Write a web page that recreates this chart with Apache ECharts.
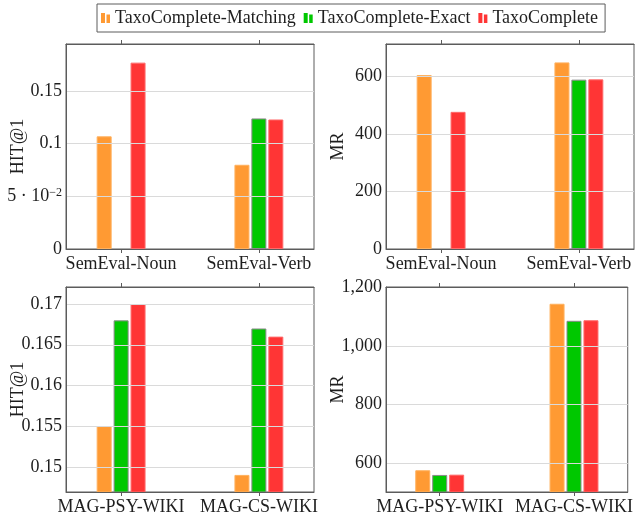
<!DOCTYPE html>
<html>
<head>
<meta charset="utf-8">
<script src="https://cdn.jsdelivr.net/npm/echarts@6/dist/echarts.min.js"></script>
<style>
  html, body { margin: 0; padding: 0; background: #fff; }
  #chart { width: 636px; height: 523px; }
</style>
</head>
<body>
<div id="chart"></div>
<script>
// Method names (legend order)
const methodNames = ['TaxoComplete-Matching', 'TaxoComplete-Exact', 'TaxoComplete'];

// Dataset groups
const semevalCategories = ['SemEval-Noun', 'SemEval-Verb'];
const magCategories = ['MAG-PSY-WIKI', 'MAG-CS-WIKI'];

// HIT@1 on SemEval (Exact has no result for SemEval-Noun)
const semevalHitMatching = [0.107, 0.080];
const semevalHitExact = [null, 0.124];
const semevalHitComplete = [0.177, 0.123];

// MR on SemEval
const semevalMrMatching = [605, 649];
const semevalMrExact = [null, 589];
const semevalMrComplete = [477, 590];

// HIT@1 on MAG
const magHitMatching = [0.155, 0.149];
const magHitExact = [0.168, 0.167];
const magHitComplete = [0.170, 0.166];

// MR on MAG
const magMrMatching = [577, 1143];
const magMrExact = [561, 1085];
const magMrComplete = [562, 1087];

// Y tick values and their printed labels
const semevalHitTicks = [0, 0.05, 0.1, 0.15];
const semevalHitTickLabels = ['0', '5 · 10{sup|−2}', '0.1', '0.15'];
const semevalMrTicks = [0, 200, 400, 600];
const semevalMrTickLabels = ['0', '200', '400', '600'];
const magHitTicks = [0.15, 0.155, 0.16, 0.165, 0.17];
const magHitTickLabels = ['0.15', '0.155', '0.16', '0.165', '0.17'];
const magMrTicks = [600, 800, 1000, 1200];
const magMrTickLabels = ['600', '800', '1,000', '1,200'];

const FONT = 'Liberation Serif';
const TEXT = '#1e1e1e';
const FRAME = '#5c5c5c';
const GRIDLINE = '#dadada';

const fills = ['#ff9a33', '#00c800', '#ff3535'];
const borders = ['#ffb15e', '#8a8a8a', '#ff6a6a'];

const panels = [
  { box: { left: 66, top: 44, width: 248, height: 205 }, cats: semevalCategories,
    values: [semevalHitMatching, semevalHitExact, semevalHitComplete],
    yMin: 0, yMax: 0.1947, ticks: semevalHitTicks, tickLabels: semevalHitTickLabels, name: 'HIT@1' },
  { box: { left: 386, top: 44, width: 248, height: 205 }, cats: semevalCategories,
    values: [semevalMrMatching, semevalMrExact, semevalMrComplete],
    yMin: 0, yMax: 713, ticks: semevalMrTicks, tickLabels: semevalMrTickLabels, name: 'MR' },
  { box: { left: 66, top: 287, width: 248, height: 205 }, cats: magCategories,
    values: [magHitMatching, magHitExact, magHitComplete],
    yMin: 0.1469, yMax: 0.1721, ticks: magHitTicks, tickLabels: magHitTickLabels, name: 'HIT@1' },
  { box: { left: 386, top: 287, width: 248, height: 205 }, cats: magCategories,
    values: [magMrMatching, magMrExact, magMrComplete],
    yMin: 503, yMax: 1200, ticks: magMrTicks, tickLabels: magMrTickLabels, name: 'MR' }
];

const grid = [], xAxis = [], yAxis = [], series = [];

panels.forEach((p, i) => {
  grid.push(Object.assign({ show: true, borderColor: FRAME, borderWidth: 1, backgroundColor: 'transparent' }, p.box));

  const catTicks = p.cats.map((c, j) => j);
  // bottom category axis (value scale so the groups sit with pgfplots-like margins)
  xAxis.push({
    gridIndex: i, type: 'value', position: 'bottom', min: -0.4, max: 1.4, z: 5,
    axisLine: { show: true, onZero: false, lineStyle: { color: FRAME, width: 1 } },
    axisTick: { show: true, inside: false, length: 4, customValues: catTicks, lineStyle: { color: FRAME } },
    axisLabel: { customValues: catTicks, margin: 6, fontFamily: FONT, fontSize: 18, color: TEXT,
                 formatter: v => p.cats[Math.round(v)] },
    splitLine: { show: false }
  });
  // top mirror axis carrying the outer ticks only
  xAxis.push({
    gridIndex: i, type: 'value', position: 'top', min: -0.4, max: 1.4, z: 5,
    axisLine: { show: true, onZero: false, lineStyle: { color: FRAME, width: 1 } },
    axisTick: { show: true, inside: false, length: 4, customValues: catTicks, lineStyle: { color: FRAME } },
    axisLabel: { show: false },
    splitLine: { show: false }
  });

  yAxis.push({
    gridIndex: i, type: 'value', min: p.yMin, max: p.yMax, z: 5,
    name: p.name, nameLocation: 'middle', nameGap: 39, nameMoveOverlap: false,
    nameTextStyle: { fontFamily: FONT, fontSize: 18, color: TEXT },
    axisLine: { show: true, onZero: false, lineStyle: { color: FRAME, width: 1 } },
    axisTick: { show: false, customValues: p.ticks },
    axisLabel: {
      customValues: p.ticks, margin: 4, fontFamily: FONT, fontSize: 18, color: TEXT,
      formatter: v => {
        const k = p.ticks.findIndex(t => Math.abs(t - v) < 1e-9);
        return k >= 0 ? p.tickLabels[k] : '';
      },
      rich: {
        sup: { fontFamily: FONT, fontSize: 12, color: TEXT, verticalAlign: 'top', padding: [0, 0, 8, 0] }
      }
    },
    splitLine: { show: true, lineStyle: { color: GRIDLINE, width: 1 } }
  });

  methodNames.forEach((name, k) => {
    series.push({
      type: 'bar', name: name, xAxisIndex: 2 * i, yAxisIndex: i,
      barWidth: 15, barGap: '13%',
      data: p.cats.map((c, j) => [j, p.values[k][j]]),
      itemStyle: { color: fills[k], borderColor: borders[k], borderWidth: 1 }
    });
  });
});

const chart = echarts.init(document.getElementById('chart'), null, { renderer: 'canvas' });
chart.setOption({
  animation: false,
  backgroundColor: '#ffffff',
  textStyle: { fontFamily: FONT },
  legend: {
    data: methodNames,
    left: 97, top: 4,
    padding: [5, 7, 5, 4],
    itemWidth: 9, itemHeight: 10, itemGap: 8,
    borderColor: FRAME, borderWidth: 1,
    icon: 'path://M0,0h4v10h-4z M5.5,1.5h3.5v8.5h-3.5z',
    itemStyle: { borderWidth: 0 },
    textStyle: { fontFamily: FONT, fontSize: 18, color: TEXT }
  },
  grid: grid,
  xAxis: xAxis,
  yAxis: yAxis,
  series: series
});
</script>
</body>
</html>
